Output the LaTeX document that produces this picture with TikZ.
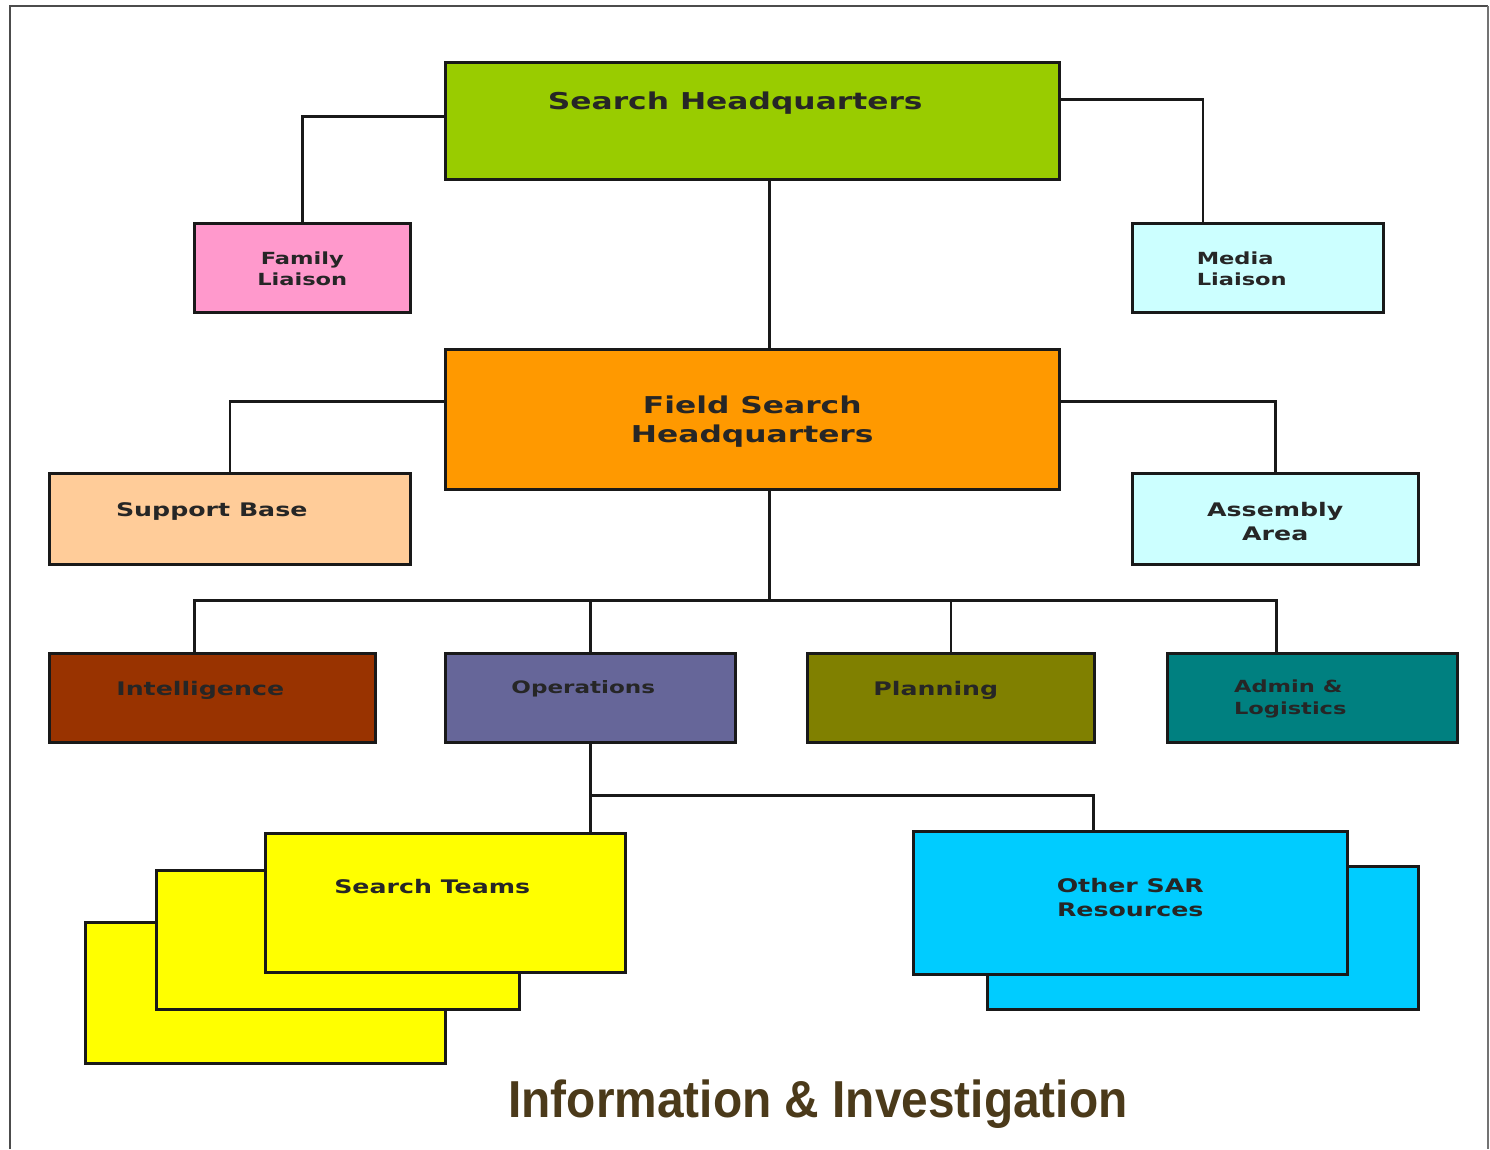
\documentclass[tikz,border=0pt]{standalone}
\usepackage{fontspec}
\usepackage{tikz}
\usetikzlibrary{positioning}

\newfontfamily\boxfont[FakeStretch=1.35]{DejaVu Sans Bold}
\newfontfamily\titlefont[FakeStretch=0.92]{Liberation Sans Bold}

\definecolor{hqgreen}{HTML}{99CC00}
\definecolor{famPink}{HTML}{FF99CC}
\definecolor{paleCyan}{HTML}{CCFFFF}
\definecolor{fieldOrange}{HTML}{FF9900}
\definecolor{basePeach}{HTML}{FFCC99}
\definecolor{intBrown}{HTML}{993300}
\definecolor{opsBlue}{HTML}{666699}
\definecolor{planOlive}{HTML}{808000}
\definecolor{admTeal}{HTML}{008080}
\definecolor{teamYellow}{HTML}{FFFF00}
\definecolor{sarBlue}{HTML}{00CCFF}
\definecolor{titleBrown}{HTML}{4B3A1A}

\begin{document}
\begin{tikzpicture} [
	x=1pt,y=-1pt,
	line width=2.5pt,
	nbox/.style={
		rectangle,draw=black!90,inner xsep=0pt,inner ysep=0pt,
		anchor=north west,align=center,text=black!85
	},
	nbig/.style={
		nbox,font=\boxfont\fontsize{23.2}{29}\selectfont
	},
	nmid/.style={
		nbox,font=\boxfont\fontsize{18.7}{24}\selectfont
	},
	nsmall/.style={
		nbox,font=\boxfont\fontsize{16.7}{21}\selectfont
	},
	wire/.style={
		draw=black!90,line width=2.5pt
	}
]
\useasboundingbox (0,0) rectangle (1490,1149);
% frame
\draw [black!70,line width=2.5pt]	(10,1149) -- (10,6) -- (1488,6);
\draw [black!55,line width=1.5pt]	(1488,6) -- (1488,1149);

% top level
\node [nbig,fill=hqgreen,minimum width=614pt,text height=47pt,text depth=70pt]	(shq) at (444,61)	{Search Headquarters\hspace*{34pt}};
\node [nsmall,fill=famPink,minimum width=216pt,text height=62.5pt,text depth=26.5pt]	(fam) at (193,222)	{Family\\Liaison};
\node [nsmall,fill=paleCyan,minimum width=251pt,text height=62.5pt,text depth=26.5pt,align=left]	(med) at (1131,222)	{Media\\Liaison\hspace*{32pt}};

% field level
\node [nbig,fill=fieldOrange,minimum width=614pt,text height=93.5pt,text depth=46.5pt]	(fshq) at (444,348)	{Field Search\\Headquarters};
\node [nmid,fill=basePeach,minimum width=361pt,text height=43.5pt,text depth=47.5pt]	(sup) at (48,472)	{Support Base\hspace*{36pt}};
\node [nmid,fill=paleCyan,minimum width=286pt,text height=67.5pt,text depth=23.5pt]	(asm) at (1131,472)	{Assembly\\Area};

% sections
\node [nmid,fill=intBrown,minimum width=326pt,text height=42.5pt,text depth=46.5pt]	(int) at (48,652)	{Intelligence\hspace*{24pt}};
\node [nsmall,fill=opsBlue,minimum width=290pt,text height=40pt,text depth=49pt,font=\boxfont\fontsize{17.1}{21}\selectfont]	(ops) at (444,652)	{Operations\hspace*{14pt}};
\node [nmid,fill=planOlive,minimum width=287pt,text height=42.5pt,text depth=46.5pt]	(pln) at (806,652)	{Planning\hspace*{30pt}};
\node [nsmall,fill=admTeal,minimum width=290pt,text height=61.5pt,text depth=27.5pt,align=left,font=\boxfont\fontsize{16.7}{22}\selectfont]	(adm) at (1166,652)	{Admin \&\hspace*{48pt}\\Logistics};

% teams
\node [nbox,fill=teamYellow,minimum width=360pt,minimum height=141pt]	(teamsc) at (84,921)	{};
\node [nbox,fill=teamYellow,minimum width=363pt,minimum height=139pt]	(teamsb) at (155,869)	{};
\node [nmid,fill=teamYellow,minimum width=360pt,text height=60.5pt,text depth=78.5pt]	(teams) at (264,832)	{Search Teams\hspace*{26pt}};
\node [nbox,fill=sarBlue,minimum width=431pt,minimum height=143pt]	(othb) at (986,865)	{};
\node [nmid,fill=sarBlue,minimum width=434pt,text height=85.5pt,text depth=57.5pt]	(oth) at (912,830)	{Other SAR\\Resources};

% connectors
\path ([xshift=17pt]fshq.south) ++(0,110) coordinate (bus);
\path (ops.south) ++(0,52) coordinate (opsbus);
\draw [wire]	([yshift=4.5pt]shq.west) -| (fam.north);
\draw [wire]	([yshift=21.5pt]shq.east) -| ([xshift=-55pt]med.north);
\draw [wire]	([xshift=17pt]shq.south) -- ([xshift=17pt]fshq.north);
\draw [wire]	([yshift=18pt]fshq.west) -| (sup.north);
\draw [wire]	([yshift=18pt]fshq.east) -| (asm.north);
\draw [wire]	([xshift=17pt]fshq.south) -- (bus);
\draw [wire]	(bus) -| ([xshift=-18pt]int.north);
\draw [wire]	(bus) -| (ops.north);
\draw [wire]	(bus) -| (pln.north);
\draw [wire]	(bus) -| ([xshift=-36pt]adm.north);
\draw [wire]	(ops.south) -- (ops.south |- teams.north);
\draw [wire]	(opsbus) -| ([xshift=-37pt]oth.north);

% caption
\node [font=\titlefont\fontsize{52}{60}\selectfont,text=titleBrown,anchor=base]	(title) at (818,1117)	{Information \& Investigation};
\end{tikzpicture}
\end{document}
